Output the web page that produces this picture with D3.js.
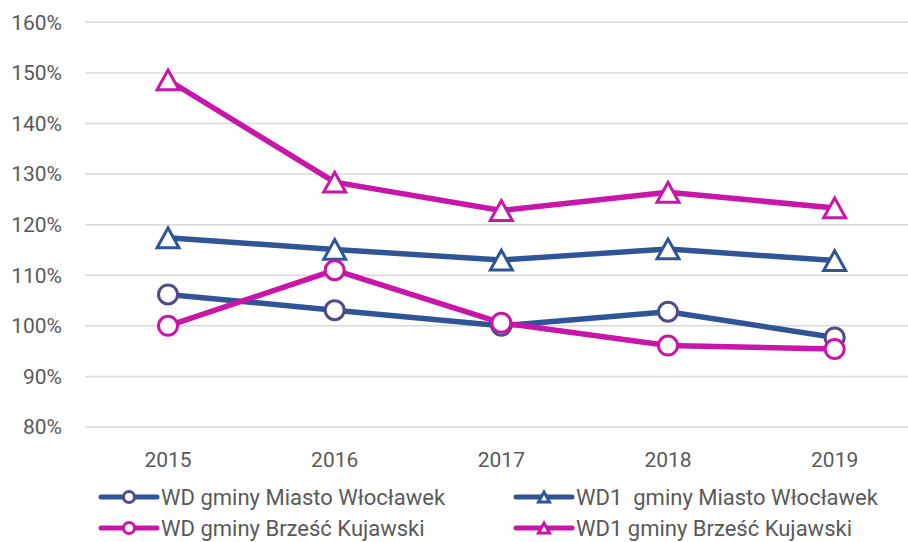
<!DOCTYPE html>
<html>
<head>
<meta charset="utf-8">
<script src="https://cdn.jsdelivr.net/npm/d3@7"></script>
<style>
  body { margin: 0; background: #ffffff; }
  text { font-family: "Liberation Sans Narrow", "Roboto", sans-serif; fill: #595959; white-space: pre; }
</style>
</head>
<body>
<div id="chart"></div>
<script>
// data
var years = ["2015", "2016", "2017", "2018", "2019"];
var wdMiasto = [1.062, 1.031, 1.000, 1.028, 0.977];
var wd1Miasto = [1.174, 1.151, 1.130, 1.152, 1.129];
var wdBrzesc = [1.000, 1.110, 1.006, 0.961, 0.954];
var wd1Brzesc = [1.486, 1.284, 1.228, 1.264, 1.233];
var yTicks = [0.8, 0.9, 1.0, 1.1, 1.2, 1.3, 1.4, 1.5, 1.6];
var seriesNames = [
  "WD gminy Miasto Włocławek",
  "WD1  gminy Miasto Włocławek",
  "WD gminy Brześć Kujawski",
  "WD1 gminy Brześć Kujawski"
];

var W = 908, H = 542;
var blue = "#2F5597", magenta = "#C716A9", purple = "#4E4C8A";

var series = [
  { name: seriesNames[0], values: wdMiasto, color: blue, marker: "circle", mColor: purple },
  { name: seriesNames[1], values: wd1Miasto, color: blue, marker: "triangle", mColor: blue },
  { name: seriesNames[2], values: wdBrzesc, color: magenta, marker: "circle", mColor: magenta },
  { name: seriesNames[3], values: wd1Brzesc, color: magenta, marker: "triangle", mColor: magenta }
];

var svg = d3.select("#chart")
  .append("svg")
  .attr("width", W)
  .attr("height", H);

// scales
var x = d3.scaleBand().domain(years).range([84.7, 918]).padding(0);
var y = d3.scaleLinear().domain([0.8, 1.6]).range([427, 22.3]);
var cx = function(i) { return x(years[i]) + x.bandwidth() / 2; };

// gridlines
svg.append("g")
  .selectAll("line")
  .data(yTicks)
  .enter()
  .append("line")
  .attr("x1", 85)
  .attr("x2", W)
  .attr("y1", d => y(d))
  .attr("y2", d => y(d))
  .attr("stroke", "#D9D9D9")
  .attr("stroke-width", 1.5);

// y axis labels
svg.append("g")
  .selectAll("text")
  .data(yTicks)
  .enter()
  .append("text")
  .attr("x", 62)
  .attr("y", d => y(d))
  .attr("dy", "0.35em")
  .attr("text-anchor", "end")
  .style("font-size", "21px")
  .text(d3.format(".0%"));

// x axis labels
svg.append("g")
  .selectAll("text")
  .data(years)
  .enter()
  .append("text")
  .attr("x", d => x(d) + x.bandwidth() / 2)
  .attr("y", 460)
  .attr("dy", "0.35em")
  .attr("text-anchor", "middle")
  .style("font-size", "21px")
  .text(d => d);

var line = d3.line()
  .x((d, i) => cx(i))
  .y(d => y(d));

function drawMarker(g, type, px, py, color, size) {
  if (type === "circle") {
    g.append("circle")
      .attr("cx", px)
      .attr("cy", py)
      .attr("r", size)
      .attr("fill", "#fff")
      .attr("stroke", color)
      .attr("stroke-width", 3);
  } else {
    var s = size * 2.2;
    var h = s * 0.9;
    g.append("path")
      .attr("d", "M" + px + "," + (py - h / 2) + "L" + (px + s / 2) + "," + (py + h / 2) +
        "L" + (px - s / 2) + "," + (py + h / 2) + "Z")
      .attr("fill", "#fff")
      .attr("stroke", color)
      .attr("stroke-width", 3)
      .attr("stroke-linejoin", "miter");
  }
}

series.forEach(function(s) {
  var g = svg.append("g");
  g.append("path")
    .datum(s.values)
    .attr("d", line)
    .attr("fill", "none")
    .attr("stroke", s.color)
    .attr("stroke-width", 5.5)
    .attr("stroke-linejoin", "round");
  s.values.forEach(function(v, i) {
    drawMarker(g, s.marker, cx(i), y(v), s.mColor, s.marker === "circle" ? 9.5 : 10);
  });
});

// legend
var legendPos = [[101, 497], [516, 497], [101, 528], [516, 528]];
series.forEach(function(s, i) {
  var lx = legendPos[i][0], ly = legendPos[i][1];
  var g = svg.append("g");
  g.append("line")
    .attr("x1", lx)
    .attr("x2", lx + 56)
    .attr("y1", ly)
    .attr("y2", ly)
    .attr("stroke", s.color)
    .attr("stroke-width", 5)
    .attr("stroke-linecap", "round");
  drawMarker(g, s.marker, lx + 28, ly, s.mColor, s.marker === "circle" ? 5.5 : 5);
  g.append("text")
    .attr("x", lx + 60)
    .attr("y", ly)
    .attr("dy", "0.35em")
    .style("font-size", "22px")
    .text(s.name);
});
</script>
</body>
</html>
